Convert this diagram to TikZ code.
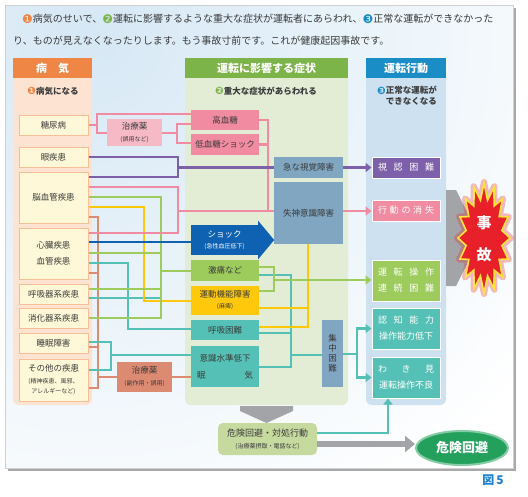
\documentclass[tikz,border=0pt]{standalone}
\usepackage{fontspec}
\setmainfont{Noto Sans CJK JP}
\newfontfamily\dingfont{DejaVu Sans}
\usepackage{graphicx}
\usepackage{tikz}
\usetikzlibrary{arrows.meta}
\usetikzlibrary{calc}
\usetikzlibrary{backgrounds}
\usetikzlibrary{shapes.geometric}
\usetikzlibrary{positioning}

\definecolor{byoki-orange}{HTML}{EF8646}
\definecolor{byoki-peach}{HTML}{FDE3D2}
\definecolor{byoki-cream}{HTML}{FFF8D8}
\definecolor{byoki-edge}{HTML}{F7BE98}
\definecolor{shojo-green}{HTML}{7DB44A}
\definecolor{shojo-pale}{HTML}{E3EDD6}
\definecolor{kodo-blue}{HTML}{1A8CC6}
\definecolor{kodo-pale}{HTML}{CDE1F0}
\definecolor{c-pink}{HTML}{F08BA1}
\definecolor{c-pinklight}{HTML}{F6BAC6}
\definecolor{c-purple}{HTML}{7E5FA9}
\definecolor{c-steel}{HTML}{80A6C2}
\definecolor{c-shock}{HTML}{0F62B2}
\definecolor{c-green}{HTML}{9DCB5C}
\definecolor{c-yellow}{HTML}{FFC80A}
\definecolor{c-teal}{HTML}{55C1B6}
\definecolor{c-salmon}{HTML}{DD8A73}
\definecolor{c-olive}{HTML}{C6D99F}
\definecolor{c-kiken}{HTML}{22A05C}
\definecolor{c-gray}{HTML}{A3A4A7}
\definecolor{c-text}{HTML}{3A3A3A}
\definecolor{c-fig}{HTML}{1E7FD0}
\definecolor{c-shadow}{HTML}{A9A9A9}
\definecolor{c-frame}{HTML}{D0D0D0}
\definecolor{bg-blue}{HTML}{D6E8F5}
\definecolor{jiko-red}{HTML}{E8202A}
\definecolor{jiko-yellow}{HTML}{FFE43A}

\newcommand{\maru}[2]{\raisebox{-0.08em}{\scalebox{1.2}{\textcolor{#1}{\dingfont #2}}}}
\newcommand{\hiraki}[1]{\makebox[56pt]{#1}}
\newcommand{\chuki}[1]{{\fontsize{6}{8}\selectfont #1}}

\tikzset{
    colhead/.style={minimum height=20pt, inner sep=0pt, text=white,
        font=\bfseries\fontsize{11}{13}\selectfont},
    colbody/.style={rounded corners=6pt},
    disbox/.style={draw=byoki-edge, fill=byoki-cream, line width=1pt,
        minimum width=69pt, inner sep=0pt, align=center,
        font=\fontsize{8.5}{16}\selectfont},
    symbox/.style={minimum width=68pt, inner sep=0pt, align=center},
    resbox/.style={draw=white, line width=1pt, minimum width=68pt, inner sep=0pt,
        align=center, text=white, font=\fontsize{9}{16}\selectfont},
    wire/.style={line width=2.5pt},
    wirehead/.style={-{Triangle[length=6pt, width=9pt]}},
}

\begin{document}
\begin{tikzpicture}[x=1pt, y=-1pt, font=\fontsize{8.5}{10}\selectfont, text=c-text]
    \useasboundingbox (0,0) rectangle (528,496);

    % panel
    \fill[c-shadow] (8,8) rectangle (516,471);
    \fill[white] (5,5) rectangle (513,468);
    \begin{scope}
        \clip (5,5) rectangle (513,468);
        \shade[inner color=bg-blue, outer color=white] (90,30) circle (560pt);
    \end{scope}
    \draw[c-frame, line width=0.6pt] (5,5) rectangle (513,468);

    % lead text
    \begin{scope}[every node/.style={anchor=west, inner sep=0pt, font=\fontsize{10}{12}\selectfont}]
        \node (lead1) at (22,19) {\maru{byoki-orange}{❶}病気のせいで、\maru{shojo-green}{❷}運転に影響するような重大な症状が運転者にあらわれ、\maru{kodo-blue}{❸}正常な運転ができなかった};
        \node (lead2) at (13,41) {り、ものが見えなくなったりします。もう事故寸前です。これが健康起因事故です。};
    \end{scope}

    % columns
    \fill[byoki-peach, colbody] (13,70) rectangle (92,405);
    \fill[shojo-pale, colbody] (185,70) rectangle (348,405);
    \fill[kodo-pale, colbody] (366,70) rectangle (446,405);
    \node[colhead, fill=byoki-orange, minimum width=79pt] (hbyoki) at (52.5,68) {病　気};
    \node[colhead, fill=shojo-green, minimum width=163pt] (hshojo) at (266.5,68) {運転に影響する症状};
    \node[colhead, fill=kodo-blue, minimum width=80pt] (hkodo) at (406,68) {運転行動};
    \begin{scope}[every node/.style={font=\bfseries\fontsize{8.5}{11}\selectfont, inner sep=0pt}]
        \node (sub1) at (53,91) {\maru{byoki-orange}{❶}病気になる};
        \node (sub2) at (266,91) {\maru{shojo-green}{❷}重大な症状があらわれる};
        \node[align=right, anchor=north east] (sub3) at (437,86) {\maru{kodo-blue}{❸}正常な運転が\\できなくなる};
    \end{scope}

    % diseases
    \node[disbox, minimum height=20pt] (tonyo) at (53.5,125) {糖尿病};
    \node[disbox, minimum height=20pt] (ganshi) at (53.5,157) {眼疾患};
    \node[disbox, minimum height=51pt] (noke) at (53.5,197.5) {脳血管疾患};
    \node[disbox, minimum height=51pt] (shinzo) at (53.5,253.5) {心臓疾患\\血管疾患};
    \node[disbox, minimum height=20pt] (kokyuki) at (53.5,294) {呼吸器系疾患};
    \node[disbox, minimum height=20pt] (shokaki) at (53.5,318) {消化器系疾患};
    \node[disbox, minimum height=20pt] (suimin) at (53.5,343) {睡眠障害};
    \node[disbox, minimum height=42pt, font=\fontsize{8.5}{12}\selectfont] (sonota) at (53.5,380)
        {その他の疾患\\\chuki{(精神疾患、風邪、}\\[-2pt]\chuki{アレルギーなど)}};

    % medicine
    \node[fill=c-pinklight, minimum width=55pt, minimum height=27pt, inner sep=0pt, align=center,
          font=\fontsize{8.5}{12}\selectfont] (chiryo) at (134.5,132.5) {治療薬\\\chuki{(誤用など)}};
    \node[fill=c-salmon, minimum width=55pt, minimum height=30pt, inner sep=0pt, align=center,
          font=\fontsize{8.5}{12}\selectfont] (chiryo2) at (144.5,377) {治療薬\\\chuki{(副作用・誤用)}};

    % symptoms
    \begin{scope}[every node/.style={symbox}]
        \node[fill=c-pink, minimum height=20pt] (kokettou) at (225,120) {高血糖};
        \node[fill=c-pink, minimum height=21pt] (teikettou) at (225,144.5) {低血糖ショック};
        \node[fill=c-steel, minimum width=69pt, minimum height=21pt] (shikaku) at (308.5,167.5) {急な視覚障害};
        \node[fill=c-steel, minimum width=69pt, minimum height=62pt] (shisshin) at (308.5,213) {失神意識障害};
        \node[fill=c-shock, minimum width=67pt, minimum height=30pt, text=white,
              font=\fontsize{8.5}{11}\selectfont] (shock) at (224.5,240) {ショック\\\chuki{(急性血圧低下)}};
        \node[fill=c-green, minimum height=21pt] (gekitsu) at (225,270.5) {激痛など};
        \node[fill=c-yellow, minimum height=29pt, font=\fontsize{8.5}{11}\selectfont] (undo) at (225,300.5) {運動機能障害\\\chuki{(麻痺)}};
        \node[fill=c-teal, minimum height=20pt] (konnan) at (225,330) {呼吸困難};
        \node[fill=c-teal, minimum height=41pt, font=\fontsize{8.5}{17}\selectfont] (ishiki) at (225,366.5)
            {意識水準低下\\\makebox[56pt]{眠\hfill 気}};
        \node[fill=c-steel, minimum width=21pt, minimum height=67pt, font=\fontsize{8.5}{10}\selectfont] (shuchu) at (332.5,353.5) {集\\中\\困\\難};
    \end{scope}
    \fill[c-shock] ($(shock.north east)+(0,-4)$) -- ($(shock.east)+(16,0)$) -- ($(shock.south east)+(0,4)$) -- cycle;

    % results
    \node[resbox, fill=c-purple, minimum height=21pt] (shinin) at (406,167.5) {\hiraki{視\hfill 認\hfill 困\hfill 難}};
    \node[resbox, fill=c-pink, minimum height=21pt] (shoshitsu) at (406,210.5) {\hiraki{行\hfill 動\hfill の\hfill 消\hfill 失}};
    \node[resbox, fill=c-green, minimum height=41pt] (renzoku) at (406,280.5) {\hiraki{運\hfill 転\hfill 操\hfill 作}\\\hiraki{連\hfill 続\hfill 困\hfill 難}};
    \node[resbox, fill=c-teal, minimum height=41pt] (ninchi) at (406,328.5) {\hiraki{認\hfill 知\hfill 能\hfill 力}\\\hiraki{操作能力低下}};
    \node[resbox, fill=c-teal, minimum height=41pt] (wakimi) at (406,377.5) {\hiraki{わ\hfill き\hfill 見}\\\hiraki{運転操作不良}};

    % salmon lines
    \draw[wire, c-salmon] (noke.east |- 0,217) -| (98,388) -- (sonota.east |- 0,388);
    \draw[wire, c-salmon] (shinzo.east |- 0,273) -- (98,273);
    \draw[wire, c-salmon] (suimin.east |- 0,347) -- (98,347);
    \draw[wire, c-salmon] (chiryo2.west -| 98,0) -- (chiryo2.west);
    \draw[wire, c-salmon] (chiryo2.east) -- (ishiki.west |- chiryo2.east);

    % teal lines
    \draw[wire, c-teal] (shinzo.east |- 0,263) -| (128,329) -- (konnan.west |- 0,329);
    \draw[wire, c-teal] (kokyuki.east |- 0,298) -- (161,298);
    \draw[wire, c-teal] (suimin.east |- 0,342) -| (111,370) -- (sonota.east |- 0,370);
    \draw[wire, c-teal] (111,355) -- (ishiki.west |- 0,355);
    \draw[wire, c-teal] (gekitsu.east |- 0,275) -| (291,367) -- (ishiki.east |- 0,367);
    \draw[wire, c-teal] (konnan.east |- 0,333) -- (291,333);
    \draw[wire, c-teal] (291,355) -- (shuchu.west |- 0,355);
    \draw[wire, c-teal] (shuchu.east |- 0,354) -- (357,354);
    \draw[wire, c-teal, wirehead] (357,354) |- (ninchi.west);
    \draw[wire, c-teal, wirehead] (357,354) |- (wakimi.west);

    % yellow lines
    \draw[wire, c-yellow] (noke.east |- 0,207) -| (144,301) -- (undo.west |- 0,301);
    \draw[wire, c-yellow] (shisshin.south -| 308,0) -- (308,327) -- (konnan.east |- 0,327);
    \draw[wire, c-yellow] (undo.east |- 0,308) -- (308,308);

    % green lines
    \draw[wire, c-green] (noke.east |- 0,197) -| (161,318) -- (shokaki.east |- 0,318);
    \draw[wire, c-green] (shinzo.east |- 0,253) -- (161,253);
    \draw[wire, c-green] (kokyuki.east |- 0,289) -- (161,289);
    \draw[wire, c-green] (161,271) -- (gekitsu.west |- 0,271);
    \draw[wire, c-green] (gekitsu.east |- 0,267) -| (274,291) -- (undo.east |- 0,291);
    \draw[wire, c-green, wirehead] (274,280) -- (renzoku.west |- 0,280);

    % pink lines
    \draw[wire, c-pink] (tonyo.east) -- (97,125);
    \draw[wire, c-pink] (kokettou.west |- 0,114) -- (97,114) -- (97,133) -- (chiryo.west |- 0,133);
    \draw[wire, c-pink] (chiryo.east |- 0,133) -- (177,133);
    \draw[wire, c-pink] (kokettou.west |- 0,124) -- (177,124) -- (177,143) -- (teikettou.west |- 0,143);
    \draw[wire, c-pink] (kokettou.east) -| (268,211) -- (shisshin.west |- 0,211);
    \draw[wire, c-pink] (teikettou.east) -- (268,144.5);
    \draw[wire, c-pink] (noke.east |- 0,187) -- (178,187) -- (178,233) -- (shinzo.east |- 0,233);
    \draw[wire, c-pink] (178,211) -- (268,211);
    \draw[wire, c-pink, wirehead] (shisshin.east |- 0,211) -- (shoshitsu.west |- 0,211);

    % purple lines
    \draw[wire, c-purple] (ganshi.east) -- (178,157) -- (178,177) -- (noke.east |- 0,177);
    \draw[wire, c-purple] (178,167.5) -- (shikaku.west);
    \draw[wire, c-purple, wirehead] (shikaku.east) -- (shinin.west);

    % shock line
    \draw[line width=2.8pt, c-shock] (shinzo.east |- 0,242) -- (shock.west |- 0,242);

    % accident
    \fill[c-gray] (446,190) -- (456,190) -- (480,238) -- (456,286) -- (446,286) -- cycle;
    \draw[jiko-red, line width=6pt, opacity=0.3, line join=round]
        (511,238) \foreach \k in {1,...,31}{
            -- ({484+(1-0.3*mod(\k,2))*27*cos(\k*360/32)}, {238+(1-0.3*mod(\k,2))*56*sin(\k*360/32)})
        } -- cycle;
    \draw[jiko-yellow, line width=1.6pt, fill=jiko-red]
        (510,238) \foreach \k in {1,...,31}{
            -- ({484+(1-0.3*mod(\k,2))*26*cos(\k*360/32)}, {238+(1-0.3*mod(\k,2))*55*sin(\k*360/32)})
        } -- cycle;
    \begin{scope}[every node/.style={text=white, font=\bfseries\fontsize{15}{17}\selectfont}]
        \node (ji) at (484,223) {事};
        \node (ko) at (484,255) {故};
    \end{scope}

    % avoidance
    \fill[c-gray] (240,406) -- (293,406) -- (293,411) -- (266.5,423) -- (240,411) -- cycle;
    \node[fill=c-olive, rounded corners=5pt, minimum width=99pt, minimum height=32pt, inner sep=0pt,
          align=center, font=\fontsize{9}{12}\selectfont] (taisho) at (267.5,439)
          {危険回避・対処行動\\\chuki{(治療薬摂取・電話など)}};
    \node[ellipse, fill=c-kiken, draw=c-kiken!55, line width=2pt, minimum width=92pt, minimum height=34pt,
          text=white, font=\bfseries\fontsize{13}{15}\selectfont] (kaihi) at (462,448) {危険回避};
    \draw[c-gray, line width=6pt, -{Triangle[length=10pt, width=16pt]}] (taisho.east |- 0,444) -- (kaihi.west |- 0,444);
    \draw[wire, c-teal, wirehead] (taisho.east |- 0,433) -| (wakimi.south -| 388,0);

    % figure number
    \node[text=c-fig, font=\bfseries\fontsize{12}{14}\selectfont] (zu) at (493,480) {図\,5};

\end{tikzpicture}
\end{document}
